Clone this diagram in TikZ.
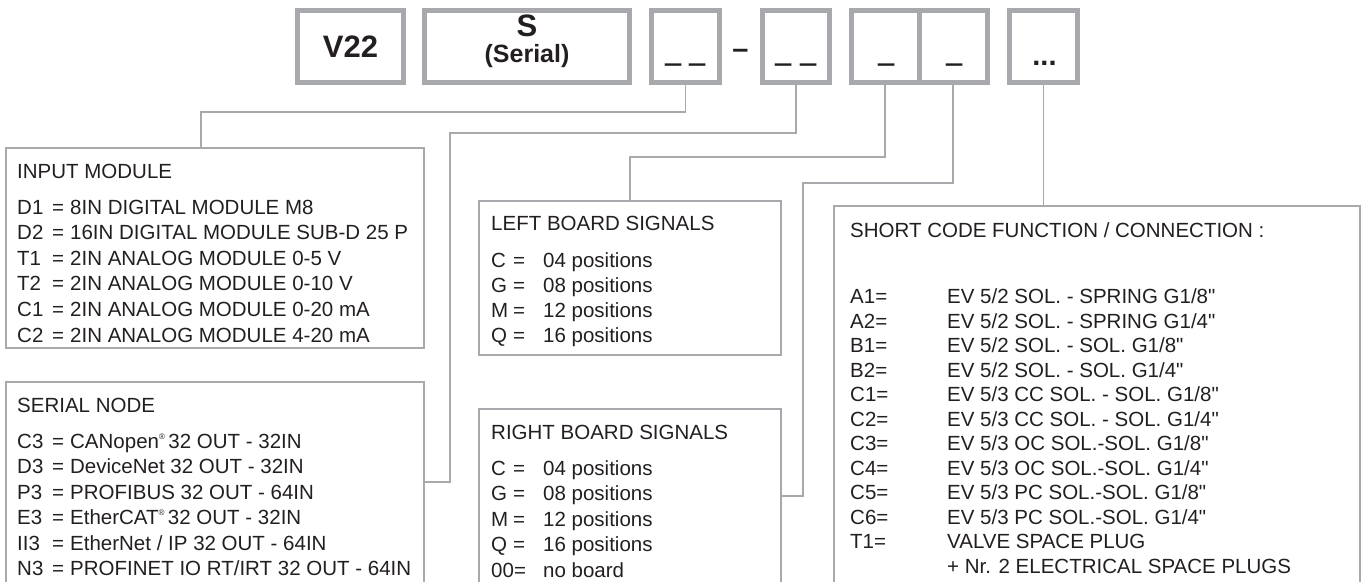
\documentclass[tikz,border=0pt]{standalone}
\usepackage{fontspec}
\setmainfont{Liberation Sans}[Ligatures=TeXOff]
\usepackage{graphicx}
\definecolor{lg}{RGB}{167,169,172}
\definecolor{ink}{RGB}{35,31,32}
\newcommand\lrow[4]{\makebox[#1][l]{#2}\makebox[#3][l]{=}#4}
\newcommand\reg{\raisebox{0.8ex}{\fontsize{8}{8}\selectfont ®}}
\begin{document}
\begin{tikzpicture}[x=1pt,y=-1pt,
  topbox/.style={draw=lg,line width=5pt,minimum height=72pt,inner sep=0pt},
  listbox/.style={line width=2pt,inner sep=0pt,outer sep=0pt},
  conn/.style={draw=lg,line width=1.8pt},
  txt/.style={font=\fontsize{20.5}{24}\selectfont,text=ink,inner sep=0pt,anchor=base west},
  code/.style={font=\fontsize{29}{32}\selectfont\bfseries,text=ink,inner sep=0pt,anchor=base},
  codebig/.style={font=\fontsize{31}{34}\selectfont\bfseries,text=ink,inner sep=0pt,anchor=base},
  codemid/.style={font=\fontsize{25}{28}\selectfont\bfseries,text=ink,inner sep=0pt,anchor=base}]
\useasboundingbox (0,0) rectangle (1370,581);

% top code boxes
\node[topbox,minimum width=106pt] (v22) at (350.5,46.5) {};
\node[topbox,minimum width=205pt] (ser) at (527,46.5) {};
\node[topbox,minimum width=68pt] (b1) at (685.5,46.5) {};
\node[topbox,minimum width=67pt] (b2) at (796,46.5) {};
\node[topbox,minimum width=67.5pt] (b3) at (885.25,46.5) {};
\node[topbox,minimum width=68.5pt] (b4) at (953.25,46.5) {};
\node[topbox,minimum width=68pt] (b5) at (1043.5,46.5) {};

\node[codebig] (tv22) at (350.5,57) {V22};
\node[codebig] (ts) at (527,36) {S};
\node[codemid] (tser) at (527,62) {(Serial)};
\node[code] (u1) at (685.5,58) {\scalebox{1}[2.2]{\_ \_}};
\node[code] (dash) at (740.5,58) {–};
\node[code] (u2) at (796,58) {\scalebox{1}[2.2]{\_ \_}};
\node[code] (u3) at (887,58) {\scalebox{1}[2.2]{\_}};
\node[code] (u4) at (955,58) {\scalebox{1}[2.2]{\_}};
\node[code] (dots) at (1044.5,65) {...};

% list boxes
\node[listbox,draw=lg,minimum width=418pt,minimum height=200pt] (inp) at (215,248) {};
\node[listbox,minimum width=418pt,minimum height=218pt] (snode) at (215,491) {};
\draw[lg,line width=2pt] (snode.south west) |- (snode.north east) -- (snode.south east);
\node[listbox,draw=lg,minimum width=302pt,minimum height=154pt] (lbox) at (630,278) {};
\node[listbox,minimum width=302pt,minimum height=191pt] (rbox) at (630,504.5) {};
\draw[lg,line width=2pt] (rbox.south west) |- (rbox.north east) -- (rbox.south east);
\node[listbox,minimum width=526pt,minimum height=394pt] (scbox) at (1097,403) {};
\draw[lg,line width=2pt] (scbox.south west) |- (scbox.north east) -- (scbox.south east);

% connectors
\coordinate (c1) at (201,112);
\coordinate (c2) at (450,133);
\coordinate (c3) at (450,482);
\coordinate (c4) at (630,157);
\coordinate (c5) at (803,183);
\coordinate (c6) at (803,496);
\draw[conn] (b1.south) |- (c1) -- (c1 |- inp.north);
\draw[conn] (b2.south) |- (c2) -- (c3) -- (c3 -| snode.east);
\draw[conn] (b3.south) |- (c4) -- (lbox.north);
\draw[conn] (b4.south) |- (c5) -- (c6) -- (c6 -| rbox.east);
\draw[conn] (b5.south) -- (b5.south |- scbox.north);

% input module
\node[txt] (inH) at (17,178) {INPUT MODULE};
\node[txt] (in1) at (17,214) {\lrow{35pt}{D1}{18pt}{8IN DIGITAL MODULE M8}};
\node[txt] (in2) at (17,239.6) {\lrow{35pt}{D2}{18pt}{16IN DIGITAL MODULE SUB-D 25 P}};
\node[txt] (in3) at (17,265.2) {\lrow{35pt}{T1}{18pt}{2IN ANALOG MODULE 0-5 V}};
\node[txt] (in4) at (17,290.8) {\lrow{35pt}{T2}{18pt}{2IN ANALOG MODULE 0-10 V}};
\node[txt] (in5) at (17,316.4) {\lrow{35pt}{C1}{18pt}{2IN ANALOG MODULE 0-20 mA}};
\node[txt] (in6) at (17,342) {\lrow{35pt}{C2}{18pt}{2IN ANALOG MODULE 4-20 mA}};

% serial node
\node[txt] (snH) at (17,412) {SERIAL NODE};
\node[txt] (sn1) at (17,448) {\lrow{35pt}{C3}{18pt}{CANopen\reg\,32 OUT - 32IN}};
\node[txt] (sn2) at (17,473.5) {\lrow{35pt}{D3}{18pt}{DeviceNet 32 OUT - 32IN}};
\node[txt] (sn3) at (17,499) {\lrow{35pt}{P3}{18pt}{PROFIBUS 32 OUT - 64IN}};
\node[txt] (sn4) at (17,524.5) {\lrow{35pt}{E3}{18pt}{EtherCAT\reg\,32 OUT - 32IN}};
\node[txt] (sn5) at (17,550) {\lrow{35pt}{II3}{18pt}{EtherNet / IP 32 OUT - 64IN}};
\node[txt] (sn6) at (17,575.5) {\lrow{35pt}{N3}{18pt}{PROFINET IO RT/IRT 32 OUT - 64IN}};

% left board
\node[txt] (lbH) at (491,230) {LEFT BOARD SIGNALS};
\node[txt] (lb1) at (491,267) {\lrow{22pt}{C}{30pt}{04 positions}};
\node[txt] (lb2) at (491,292) {\lrow{22pt}{G}{30pt}{08 positions}};
\node[txt] (lb3) at (491,317) {\lrow{22pt}{M}{30pt}{12 positions}};
\node[txt] (lb4) at (491,342) {\lrow{22pt}{Q}{30pt}{16 positions}};

% right board
\node[txt] (rbH) at (491,439) {RIGHT BOARD SIGNALS};
\node[txt] (rb1) at (491,475) {\lrow{22pt}{C}{30pt}{04 positions}};
\node[txt] (rb2) at (491,500.5) {\lrow{22pt}{G}{30pt}{08 positions}};
\node[txt] (rb3) at (491,526) {\lrow{22pt}{M}{30pt}{12 positions}};
\node[txt] (rb4) at (491,551.5) {\lrow{22pt}{Q}{30pt}{16 positions}};
\node[txt] (rb5) at (491,577) {\makebox[52pt][l]{00=}no board};

% short code
\node[txt] (scH) at (850,237.5) {SHORT CODE FUNCTION / CONNECTION :};
\node[txt] (sc1) at (850,303.5) {\makebox[97pt][l]{A1=}EV 5/2 SOL. - SPRING G1/8"};
\node[txt] (sc2) at (850,328) {\makebox[97pt][l]{A2=}EV 5/2 SOL. - SPRING G1/4"};
\node[txt] (sc3) at (850,352.5) {\makebox[97pt][l]{B1=}EV 5/2 SOL. - SOL. G1/8"};
\node[txt] (sc4) at (850,377) {\makebox[97pt][l]{B2=}EV 5/2 SOL. - SOL. G1/4"};
\node[txt] (sc5) at (850,401.5) {\makebox[97pt][l]{C1=}EV 5/3 CC SOL. - SOL. G1/8"};
\node[txt] (sc6) at (850,426) {\makebox[97pt][l]{C2=}EV 5/3 CC SOL. - SOL. G1/4"};
\node[txt] (sc7) at (850,450.5) {\makebox[97pt][l]{C3=}EV 5/3 OC SOL.-SOL. G1/8"};
\node[txt] (sc8) at (850,475) {\makebox[97pt][l]{C4=}EV 5/3 OC SOL.-SOL. G1/4"};
\node[txt] (sc9) at (850,499.5) {\makebox[97pt][l]{C5=}EV 5/3 PC SOL.-SOL. G1/8"};
\node[txt] (sc10) at (850,524) {\makebox[97pt][l]{C6=}EV 5/3 PC SOL.-SOL. G1/4"};
\node[txt] (sc11) at (850,548.5) {\makebox[97pt][l]{T1=}VALVE SPACE PLUG};
\node[txt] (sc12) at (850,573) {\makebox[97pt][l]{}+ Nr. 2 ELECTRICAL SPACE PLUGS};
\end{tikzpicture}
\end{document}
